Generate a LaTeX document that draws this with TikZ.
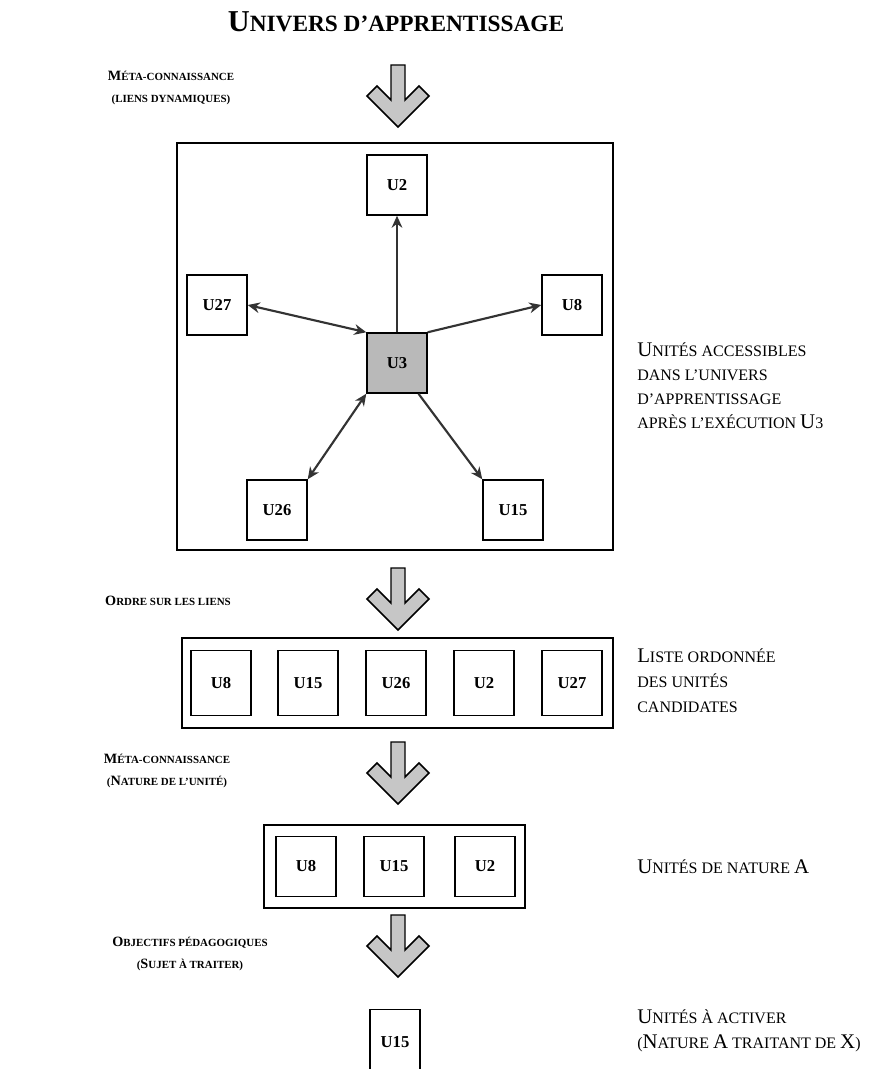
\documentclass[tikz,border=0pt]{standalone}
\usepackage{fontspec}
\setmainfont{Liberation Serif}
\usepackage{graphicx}
\usetikzlibrary{arrows.meta,calc}
\newcommand\Up[1]{\scalebox{1.3}{#1}}
\begin{document}
\begin{tikzpicture}[x=0.75pt,y=-0.75pt,
  unit/.style={draw, line width=1.1pt, minimum width=45pt, minimum height=45pt, inner sep=0pt, font=\fontsize{12.5}{12.5}\selectfont\bfseries},
  lunit/.style={unit, minimum height=48.75pt},
  frame/.style={draw, line width=1.2pt, inner sep=0pt},
  leftlab/.style={align=center, font=\fontsize{8.2}{17}\selectfont\bfseries},
  rightlab/.style={align=left, anchor=west, inner sep=0pt, font=\fontsize{12}{18}\selectfont},
  conn/.style={line width=1.6pt, draw=black!80, -{Stealth[length=9pt,width=8pt]}},
  dconn/.style={line width=1.6pt, draw=black!80, {Stealth[length=9pt,width=8pt]}-{Stealth[length=9pt,width=8pt]}},
  bigdown/.pic={\draw[line width=1.1pt, fill=gray!45] (-7,0) -- (7,0) -- (7,35) -- (21,21) -- (31,31) -- (0,62) -- (-31,31) -- (-21,21) -- (-7,35) -- cycle;}
]
\useasboundingbox (0,0) rectangle (876,1069);

% title
\node[font=\fontsize{17.5}{17.5}\selectfont\bfseries] (title) at (396,22) {\Up{U}NIVERS D'APPRENTISSAGE};

% left labels
\node[leftlab] (l1) at (171,88) {\Up{M}ÉTA-CONNAISSANCE\\(LIENS DYNAMIQUES)};
\node[leftlab] (l2) at (168,601) {\Up{O}RDRE SUR LES LIENS};
\node[leftlab] (l3) at (167,771) {\Up{M}ÉTA-CONNAISSANCE\\(\Up{N}ATURE DE L'UNITÉ)};
\node[leftlab] (l4) at (190,954) {\Up{O}BJECTIFS PÉDAGOGIQUES\\(\Up{S}UJET À TRAITER)};

% arrows
\pic at (398,65) {bigdown};
\pic at (398,568) {bigdown};
\pic at (398,742) {bigdown};
\pic at (398,915) {bigdown};

% big frame
\node[frame, minimum width=327pt, minimum height=305.25pt] (bigbox) at (395,346.5) {};
\node[unit] (U2) at (397,185) {U2};
\node[unit] (U27) at (217,305) {U27};
\node[unit] (U8) at (572,305) {U8};
\node[unit, fill=gray!55] (U3) at (397,363) {U3};
\node[unit] (U26) at (277,510) {U26};
\node[unit] (U15) at (513,510) {U15};

\draw[conn] (U3.north) -- (U2.south);
\draw[dconn] (U27.east) -- (U3.north west);
\draw[conn] (U3.north east) -- (U8.west);
\draw[dconn] (U3.south west) -- (U26.north east);
\draw[conn] ($(U3.south)!0.7!(U3.south east)$) -- (U15.north west);

\node[rightlab] (r1) at (637,386) {\Up{U}NITÉS ACCESSIBLES\\DANS L'UNIVERS\\D'APPRENTISSAGE\\APRÈS L'EXÉCUTION \Up{U}3};

% ordered list
\node[frame, minimum width=323.25pt, minimum height=67.5pt] (list) at (397.5,683) {};
\node[lunit] (a1) at (221,683) {U8};
\node[lunit] (a2) at (308,683) {U15};
\node[lunit] (a3) at (396,683) {U26};
\node[lunit] (a4) at (484,683) {U2};
\node[lunit] (a5) at (572,683) {U27};
\node[rightlab, font=\fontsize{12}{18.75}\selectfont] (r2) at (637,681) {\Up{L}ISTE ORDONNÉE\\DES UNITÉS\\CANDIDATES};

% nature A list
\node[frame, minimum width=195.75pt, minimum height=62.25pt] (slist) at (394.5,866.5) {};
\node[lunit, minimum height=45pt] (b1) at (306,866.5) {U8};
\node[lunit, minimum height=45pt] (b2) at (394,866.5) {U15};
\node[lunit, minimum height=45pt] (b3) at (485,866.5) {U2};
\node[rightlab] (r3) at (637,867) {\Up{U}NITÉS DE NATURE \Up{A}};

% final
\node[lunit, minimum width=37.5pt] (c1) at (395,1042) {U15};
\node[rightlab, font=\fontsize{12}{18.75}\selectfont] (r4) at (637,1031) {\Up{U}NITÉS À ACTIVER\\(\Up{N}ATURE \Up{A} TRAITANT DE \Up{X})};
\end{tikzpicture}
\end{document}
